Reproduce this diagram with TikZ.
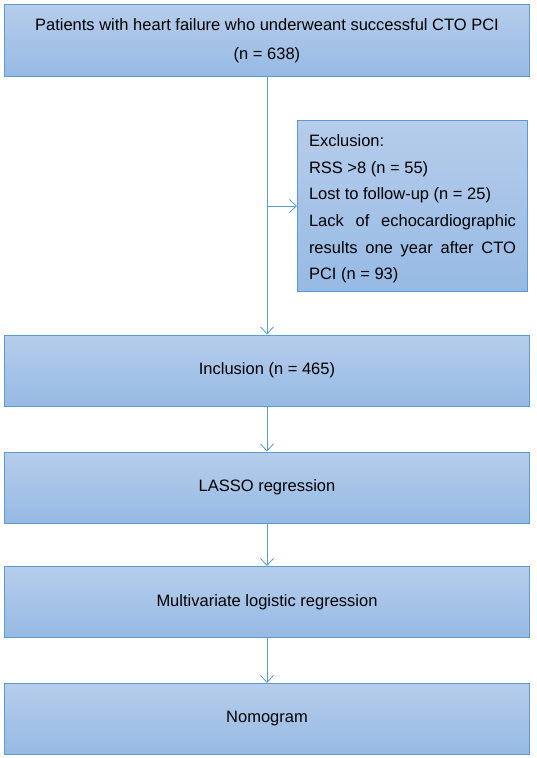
\documentclass[tikz,border=0pt]{standalone}
\usepackage{fontspec}
\setmainfont{Liberation Sans}
\usepackage{xcolor}
\usetikzlibrary{arrows.meta}

\definecolor{boxline}{RGB}{91,155,213}
\definecolor{boxtop}{RGB}{182,205,235}
\definecolor{boxbottom}{RGB}{150,186,228}

\begin{document}
\begin{tikzpicture}[x=1pt, y=-1pt,
    flowbox/.style={draw=boxline, line width=1pt, top color=boxtop, bottom color=boxbottom,
        minimum width=525pt, minimum height=71pt, inner sep=0pt, align=center,
        font=\fontsize{16.5}{29}\selectfont},
    exclbox/.style={draw=boxline, line width=1pt, top color=boxtop, bottom color=boxbottom,
        minimum width=230pt, minimum height=171pt, inner sep=0pt, text width=207pt,
        align=justify, font=\fontsize{16.5}{26.6}\selectfont},
    flowarrow/.style={draw=boxline, line width=0.8pt, -{Straight Barb[length=7pt,width=13pt]}}]
    \useasboundingbox (0,0) rectangle (536,758);

    % main column
    \node[flowbox, minimum height=72pt] (patients) at (267,40.5)
        {Patients with heart failure who underweant successful CTO PCI\\(n = 638)};
    \node[flowbox] (inclusion) at (267,370.5) {Inclusion (n = 465)};
    \node[flowbox] (lasso) at (267,487.5) {LASSO regression};
    \node[flowbox] (multi) at (267,602) {Multivariate logistic regression};
    \node[flowbox] (nomo) at (267,719) {Nomogram};

    % side box
    \node[exclbox] (excl) at (412.5,206)
        {\hyphenpenalty=10000 \exhyphenpenalty=10000 \rule{0pt}{18pt}Exclusion:\\RSS >8 (n = 55)\\Lost to follow-up (n = 25)\\Lack of echocardiographic results one year after CTO PCI (n = 93)};

    \coordinate (branch) at (patients.south |- excl.west);

    % connectors
    \draw[flowarrow] (patients.south) -- (inclusion.north);
    \draw[flowarrow] (branch) -- (excl.west);
    \draw[flowarrow] (inclusion) -- (lasso);
    \draw[flowarrow] (lasso) -- (multi);
    \draw[flowarrow] (multi) -- (nomo);
\end{tikzpicture}
\end{document}
